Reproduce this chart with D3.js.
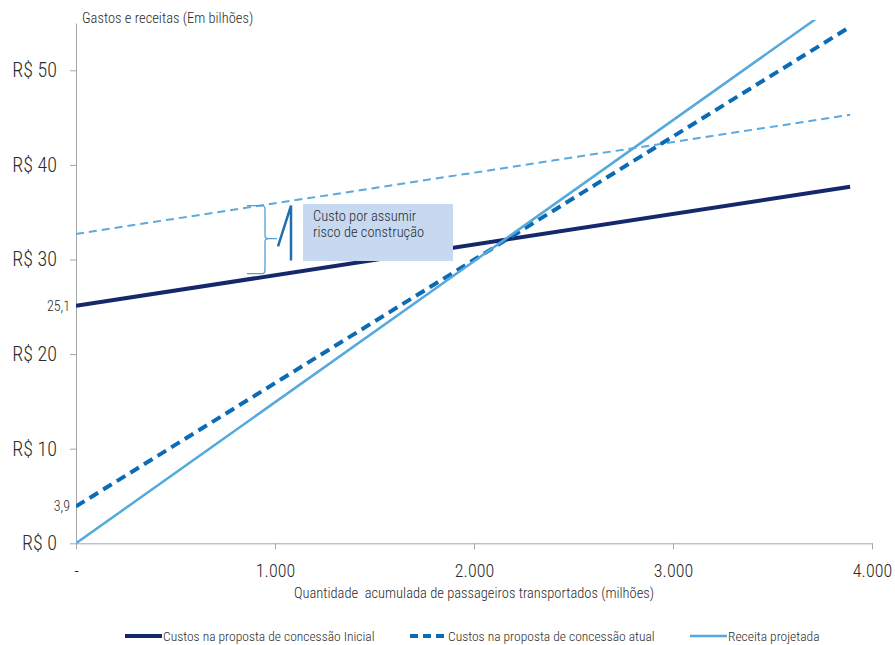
<!DOCTYPE html>
<html>
<head>
<meta charset="utf-8">
<script src="https://cdn.jsdelivr.net/npm/d3@7"></script>
<style>
  body { margin: 0; background: #fff; }
  text { font-family: "Liberation Sans Narrow", "Arial Narrow", "Roboto Condensed", sans-serif; fill: #2b2b2b; font-weight: 300; }
</style>
</head>
<body>
<svg></svg>
<script>
let width = 895
let height = 645

// x values (milhões de passageiros) of the two ends of each line
let xPoints = [0, 3890]
let custoInicial = [25.1, 37.7]
let custoAtual = [3.9, 54.6]
let receita = [0, 58.0]
let custoComRisco = [32.7, 45.3]

let yTicks = [0, 10, 20, 30, 40, 50]
let xTicks = [0, 1000, 2000, 3000, 4000]
let xTickLabels = ['-', '1.000', '2.000', '3.000', '4.000']
let extraLabels = [25.1, 3.9]

let legendNames = [
  'Custos na proposta de concessão Inicial',
  'Custos na proposta de concessão atual',
  'Receita projetada'
]

let x = d3.scaleLinear().domain([0, 4000]).range([76, 872])
let y = d3.scaleLinear().domain([0, 55]).range([543.3, 23])

let svg = d3.select('svg')
  .attr('width', width)
  .attr('height', height)

svg.append('defs')
  .append('clipPath')
    .attr('id', 'plot')
  .append('rect')
    .attr('x', x(0))
    .attr('y', 20)
    .attr('width', x(4000) - x(0))
    .attr('height', y(0) - 20)

// axes
let xAxis = d3.axisBottom(x)
  .tickValues(xTicks)
  .tickFormat((d, i) => xTickLabels[i])
  .tickSize(6)
  .tickSizeOuter(0)

let gx = svg.append('g')
  .attr('transform', `translate(0, ${y(0)})`)
  .call(xAxis)
gx.select('.domain').attr('stroke', '#a6a6a6')
gx.selectAll('.tick line').attr('stroke', '#a6a6a6')
gx.selectAll('.tick text')
  .attr('dy', '1.4em')
  .style('font-size', '18px')

let yAxis = d3.axisLeft(y)
  .tickValues(yTicks)
  .tickFormat(d => 'R$ ' + d)
  .tickSize(6)
  .tickSizeOuter(0)

let gy = svg.append('g')
  .attr('transform', `translate(${x(0)}, 0)`)
  .call(yAxis)
gy.select('.domain').attr('stroke', '#a6a6a6')
gy.selectAll('.tick line').attr('stroke', '#a6a6a6')
gy.selectAll('.tick text')
  .attr('x', -19)
  .style('font-size', '20px')

// start values next to the y axis
svg.selectAll('.extra')
  .data(extraLabels)
  .enter()
  .append('text')
    .attr('x', x(0) - 6)
    .attr('y', d => y(d))
    .attr('dy', '0.35em')
    .style('text-anchor', 'end')
    .style('font-size', '14px')
    .text(d => String(d).replace('.', ','))

// lines
let line = d3.line()
  .x((d, i) => x(xPoints[i]))
  .y(d => y(d))

let lines = svg.append('g').attr('clip-path', 'url(#plot)')

lines.append('path')
  .attr('d', line(custoComRisco))
  .attr('fill', 'none')
  .attr('stroke', '#5aaadc')
  .attr('stroke-width', 2)
  .attr('stroke-dasharray', '8,5')

lines.append('path')
  .attr('d', line(custoInicial))
  .attr('fill', 'none')
  .attr('stroke', '#14286b')
  .attr('stroke-width', 4)

lines.append('path')
  .attr('d', line(custoAtual))
  .attr('fill', 'none')
  .attr('stroke', '#0b6cb5')
  .attr('stroke-width', 4)
  .attr('stroke-dasharray', '10,6')

lines.append('path')
  .attr('d', line(receita))
  .attr('fill', 'none')
  .attr('stroke', '#56a9dc')
  .attr('stroke-width', 2.5)

// annotation: brace, callout and text box
let braceTop = y(35.7)
let braceBot = y(28.5)
let braceMid = y(32.2)
svg.append('path')
  .attr('d', `M247,${braceTop} H262 Q265,${braceTop} 265,${braceTop + 4} V${braceMid - 3} Q265,${braceMid} 269,${braceMid} H277 M269,${braceMid} Q265,${braceMid} 265,${braceMid + 3} V${braceBot - 4} Q265,${braceBot} 262,${braceBot} H247`)
  .attr('fill', 'none')
  .attr('stroke', '#4f9fd6')
  .attr('stroke-width', 1.3)

svg.append('path')
  .attr('d', `M278,${y(31.4)} L291,${y(35.7)} V${y(29.9)}`)
  .attr('fill', 'none')
  .attr('stroke', '#1f6fb0')
  .attr('stroke-width', 2.5)

svg.append('rect')
  .attr('x', 303)
  .attr('y', 204)
  .attr('width', 150)
  .attr('height', 57)
  .attr('fill', '#c6d9f1')

svg.append('text')
  .attr('x', 313)
  .attr('y', 221)
  .style('font-size', '14.5px')
  .text('Custo por assumir')

svg.append('text')
  .attr('x', 313)
  .attr('y', 237)
  .style('font-size', '14.5px')
  .text('risco de construção')

// axis titles
svg.append('text')
  .attr('x', 82)
  .attr('y', 23)
  .style('font-size', '14.5px')
  .text('Gastos e receitas (Em bilhões)')

svg.append('text')
  .attr('x', 474)
  .attr('y', 598)
  .style('text-anchor', 'middle')
  .style('font-size', '14.5px')
  .style('white-space', 'pre')
  .text('Quantidade  acumulada de passageiros transportados (milhões)')

// legend
let legendX = [125, 410, 690]
let legendStyles = [
  { color: '#14286b', width: 4, dash: null },
  { color: '#0b6cb5', width: 4, dash: '8,5' },
  { color: '#56a9dc', width: 2.5, dash: null }
]

let legend = svg.selectAll('.legend')
  .data(legendNames)
  .enter()
  .append('g')
    .attr('transform', (d, i) => `translate(${legendX[i]}, 636)`)

legend.append('line')
  .attr('x1', 0)
  .attr('x2', 37)
  .attr('stroke', (d, i) => legendStyles[i].color)
  .attr('stroke-width', (d, i) => legendStyles[i].width)
  .attr('stroke-dasharray', (d, i) => legendStyles[i].dash)

legend.append('text')
  .attr('x', 38)
  .attr('dy', '0.35em')
  .style('font-size', '13.5px')
  .text(d => d)
</script>
</body>
</html>
